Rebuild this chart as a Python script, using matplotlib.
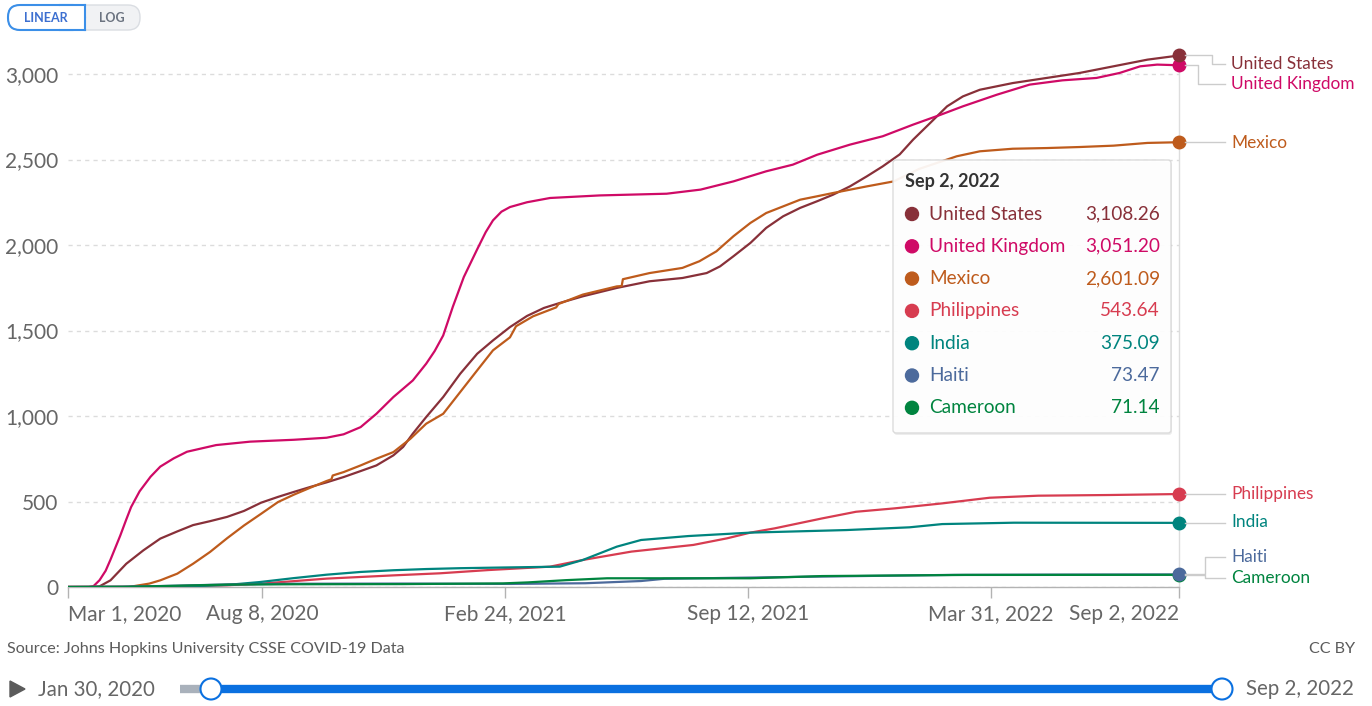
import matplotlib
matplotlib.use("Agg")
import matplotlib.pyplot as plt
import matplotlib.dates as mdates
from matplotlib.patches import FancyBboxPatch, Circle, Polygon
import pandas as pd

plt.rcParams['font.family'] = ['Lato', 'DejaVu Sans']

W, H = 1372, 706

# --- data: cumulative confirmed COVID-19 deaths per million ---
countries = ["United States", "United Kingdom", "Mexico", "Philippines", "India", "Haiti", "Cameroon"]
colors = ["#883039", "#CF0A66", "#BE5B1C", "#D73C50", "#00847E", "#4C6A9C", "#00843F"]

us_dates = ["2020-03-01", "2020-03-21", "2020-03-27", "2020-04-05", "2020-04-18", "2020-05-02", "2020-05-16",
            "2020-05-30", "2020-06-12", "2020-06-26", "2020-07-10", "2020-07-24", "2020-08-07", "2020-08-21",
            "2020-09-03", "2020-09-17", "2020-09-30", "2020-10-14", "2020-10-28", "2020-11-10", "2020-11-24",
            "2020-12-02", "2020-12-10", "2020-12-21", "2021-01-04", "2021-01-18", "2021-02-01", "2021-02-14",
            "2021-02-28", "2021-03-14", "2021-03-28", "2021-04-10", "2021-04-29", "2021-05-27", "2021-06-23",
            "2021-07-20", "2021-08-09", "2021-08-20", "2021-08-31", "2021-09-14", "2021-09-27", "2021-10-11",
            "2021-10-25", "2021-11-08", "2021-11-21", "2021-12-05", "2021-12-19", "2022-01-01", "2022-01-15",
            "2022-01-26", "2022-02-09", "2022-02-23", "2022-03-08", "2022-03-22", "2022-04-18", "2022-05-16",
            "2022-06-12", "2022-07-10", "2022-08-07", "2022-09-02"]
us_vals = [0, 0, 4, 39, 136, 214, 283,
           325, 362, 385, 410, 445, 493, 527,
           556, 586, 612, 643, 678, 711, 770,
           819, 897, 994, 1111, 1247, 1364, 1442,
           1520, 1585, 1632, 1661, 1700, 1749, 1788,
           1807, 1836, 1875, 1934, 2012, 2100, 2168,
           2217, 2256, 2294, 2343, 2402, 2460, 2530,
           2616, 2713, 2811, 2869, 2908, 2947, 2977,
           3006, 3045, 3084, 3108.26]

uk_dates = ["2020-03-01", "2020-03-18", "2020-03-22", "2020-03-27", "2020-04-01", "2020-04-05", "2020-04-09",
            "2020-04-13", "2020-04-18", "2020-04-22", "2020-04-29", "2020-05-08", "2020-05-16", "2020-05-27",
            "2020-06-07", "2020-07-01", "2020-07-29", "2020-09-03", "2020-09-30", "2020-10-14", "2020-10-28",
            "2020-11-10", "2020-11-24", "2020-12-10", "2020-12-21", "2020-12-28", "2021-01-04", "2021-01-12",
            "2021-01-21", "2021-02-01", "2021-02-08", "2021-02-14", "2021-02-21", "2021-02-28", "2021-03-14",
            "2021-04-02", "2021-05-13", "2021-07-07", "2021-08-04", "2021-08-31", "2021-09-27", "2021-10-19",
            "2021-11-08", "2021-12-05", "2022-01-01", "2022-01-26", "2022-02-17", "2022-03-08", "2022-04-05",
            "2022-05-02", "2022-05-29", "2022-06-26", "2022-07-15", "2022-08-01", "2022-08-15", "2022-09-02"]
uk_vals = [0, 0, 5, 40, 95, 160, 230,
           300, 395, 468, 560, 645, 704, 752,
           791, 830, 850, 861, 873, 893, 935,
           1013, 1111, 1208, 1306, 1380, 1471, 1640,
           1813, 1975, 2075, 2144, 2195, 2222, 2250,
           2275, 2290, 2300, 2324, 2372, 2431, 2470,
           2528, 2587, 2636, 2704, 2760, 2811, 2879,
           2938, 2963, 2977, 3006, 3045, 3055, 3051.20]

mx_dates = ["2020-03-01", "2020-04-20", "2020-05-07", "2020-05-16", "2020-05-30", "2020-06-12", "2020-06-26",
            "2020-07-10", "2020-07-24", "2020-08-07", "2020-08-21", "2020-09-03", "2020-09-17", "2020-09-30",
            "2020-10-04", "2020-10-05", "2020-10-14", "2020-10-28", "2020-11-10", "2020-11-24", "2020-12-08",
            "2020-12-21", "2021-01-04", "2021-01-18", "2021-02-01", "2021-02-14", "2021-02-28", "2021-03-05",
            "2021-03-19", "2021-04-07", "2021-04-09", "2021-04-29", "2021-05-27", "2021-05-31", "2021-06-01",
            "2021-06-23", "2021-07-20", "2021-08-03", "2021-08-17", "2021-08-31", "2021-09-14", "2021-09-27",
            "2021-10-11", "2021-10-25", "2021-11-08", "2021-11-21", "2021-12-19", "2022-01-10", "2022-01-31",
            "2022-03-03", "2022-03-22", "2022-04-18", "2022-05-16", "2022-06-12", "2022-07-10", "2022-08-07",
            "2022-09-02"]
mx_vals = [0, 0, 20, 39, 78, 136, 205,
           285, 360, 428, 497, 540, 582, 620,
           630, 652, 672, 711, 750, 789, 867,
           955, 1013, 1140, 1267, 1384, 1460, 1525,
           1583, 1635, 1655, 1710, 1758, 1760, 1800,
           1836, 1866, 1905, 1963, 2051, 2129, 2187,
           2226, 2265, 2285, 2304, 2343, 2372, 2445,
           2519, 2548, 2563, 2567, 2573, 2581, 2597,
           2601.09]

ph_dates = ["2020-03-01", "2020-05-01", "2020-07-10", "2020-08-06", "2020-09-30", "2020-11-24", "2021-01-01",
            "2021-02-10", "2021-04-02", "2021-04-29", "2021-06-08", "2021-07-29", "2021-08-26", "2021-09-14",
            "2021-10-04", "2021-11-12", "2021-12-10", "2022-01-11", "2022-02-19", "2022-03-30", "2022-05-09",
            "2022-07-07", "2022-09-02"]
ph_vals = [0, 2, 10, 19, 49, 68, 80,
           99, 119, 158, 207, 246, 285, 318,
           343, 401, 440, 460, 489, 522, 534,
           538, 543.64]

in_dates = ["2020-03-01", "2020-05-01", "2020-06-12", "2020-07-10", "2020-08-06", "2020-09-03", "2020-09-30",
            "2020-10-28", "2020-11-24", "2020-12-21", "2021-01-18", "2021-02-22", "2021-04-10", "2021-04-29",
            "2021-05-27", "2021-06-16", "2021-07-25", "2021-09-14", "2021-12-02", "2022-01-23", "2022-02-19",
            "2022-04-19", "2022-09-02"]
in_vals = [0, 1, 5, 12, 29, 52, 72,
           88, 98, 105, 110, 114, 119, 158,
           236, 275, 298, 318, 333, 349, 368,
           376, 375.09]

ht_dates = ["2020-03-01", "2020-04-15", "2020-06-01", "2020-07-10", "2020-09-01", "2020-12-01", "2021-03-01",
            "2021-05-01", "2021-06-16", "2021-07-05", "2021-08-15", "2021-11-01", "2022-01-15", "2022-03-01",
            "2022-06-01", "2022-09-02"]
ht_vals = [0, 1, 8, 15, 19, 20, 18,
           22, 35, 48, 52, 60, 67, 71,
           72.5, 73.47]

cm_dates = ["2020-03-01", "2020-04-15", "2020-05-15", "2020-07-10", "2020-09-03", "2020-12-01", "2021-02-22",
            "2021-03-15", "2021-04-15", "2021-05-19", "2021-09-14", "2021-11-12", "2022-03-10", "2022-09-02"]
cm_vals = [0, 1, 5, 14, 16, 17, 21,
           27, 40, 51, 51, 64, 70.5, 71.14]

series_dates = [us_dates, uk_dates, mx_dates, ph_dates, in_dates, ht_dates, cm_dates]
series_vals = [us_vals, uk_vals, mx_vals, ph_vals, in_vals, ht_vals, cm_vals]

tick_dates = ["2020-03-01", "2020-08-08", "2021-02-24", "2021-09-12", "2022-03-31", "2022-09-02"]
y_ticks = [0, 500, 1000, 1500, 2000, 2500, 3000]
slider_start = "2020-01-30"


def fmt_date(d):
    d = pd.Timestamp(d)
    return f"{d:%b} {d.day}, {d.year}"


fig = plt.figure(figsize=(W / 100, H / 100), dpi=100)
fig.patch.set_facecolor("white")

# main plot area (pixel box 68..1179 x, 55.5..587 y)
ymax = max(max(v) for v in series_vals)
ax = fig.add_axes([68 / W, 1 - 587 / H, (1179 - 68) / W, (587 - 55.5) / H])
ax.set_xlim(pd.Timestamp(tick_dates[0]), pd.Timestamp(tick_dates[-1]))
ax.set_ylim(0, ymax)
for s in ["top", "right", "left"]:
    ax.spines[s].set_visible(False)
ax.spines["bottom"].set_color("#b3b3b3")
ax.spines["bottom"].set_linewidth(1)
ax.set_yticks(y_ticks)
ax.set_yticklabels([f"{t:,}" for t in y_ticks])
ax.grid(axis="y", color="#dcdcdc", linestyle=(0, (3, 3)), linewidth=1)
ax.set_axisbelow(True)
ax.tick_params(axis="y", length=0, pad=7, labelsize=15, labelcolor="#666666")
ax.tick_params(axis="x", length=8, width=1, color="#b3b3b3", pad=4, labelsize=15, labelcolor="#666666")
ax.set_xticks([pd.Timestamp(d) for d in tick_dates])
ax.set_xticklabels([fmt_date(d) for d in tick_dates])
xl = ax.get_xticklabels()
xl[0].set_ha("left")
xl[-1].set_ha("right")
ax.patch.set_alpha(0)

# hover line at the last date
last = pd.Timestamp(tick_dates[-1])
ax.plot([last, last], [0, ymax], color="#dddddd", lw=1, zorder=1, clip_on=False)

for dts, vals, c in zip(series_dates, series_vals, colors):
    ax.plot(pd.to_datetime(dts), vals, color=c, lw=1.6, zorder=3, solid_joinstyle="round")

for dts, vals, c in reversed(list(zip(series_dates, series_vals, colors))):
    ax.plot(pd.Timestamp(dts[-1]), vals[-1], "o", ms=9, color=c, zorder=4, clip_on=False)

# overlay in pixel coordinates for labels, tooltip and controls
ov = fig.add_axes([0, 0, 1, 1], zorder=5)
ov.set_xlim(0, W)
ov.set_ylim(H, 0)
ov.axis("off")
ov.patch.set_alpha(0)


def dot_px(dts, vals):
    x, y = ax.transData.transform((mdates.date2num(pd.Timestamp(dts[-1])), vals[-1]))
    return x, H - y


# end labels with connectors
label_y = [64, 84, 143, 494, 522, 557, 578]
elbow_x = [1212, 1198, None, None, None, 1205, 1205]
conn = "#cccccc"
for i, (name, c) in enumerate(zip(countries, colors)):
    dx, dy = dot_px(series_dates[i], series_vals[i])
    ly = label_y[i]
    ex = elbow_x[i]
    if ex is None:
        ov.plot([dx + 6, 1225], [dy, dy], color=conn, lw=1, zorder=1)
    else:
        ov.plot([dx + 6, ex, ex, 1225], [dy, dy, ly, ly], color=conn, lw=1, zorder=1)
    ov.text(1231, ly, name, color=c, fontsize=12.4, va="center", ha="left")

# tooltip
tx, ty, tw, th = 893, 160, 278, 273
ov.add_patch(FancyBboxPatch((tx + 1, ty + 2), tw, th, boxstyle="round,pad=0,rounding_size=3",
                            fc="black", ec="none", alpha=0.07, zorder=2))
ov.add_patch(FancyBboxPatch((tx, ty), tw, th, boxstyle="round,pad=0,rounding_size=3",
                            fc="white", ec="#d9d9d9", lw=1, alpha=0.93, zorder=3))
ov.text(905, 182, fmt_date(tick_dates[-1]), fontsize=13, fontweight="bold", color="#333333",
        va="center", ha="left", zorder=4)
for i, (name, c) in enumerate(zip(countries, colors)):
    ry = 214 + i * 32.3
    ov.add_patch(Circle((912, ry), 6.5, color=c, zorder=4))
    ov.text(929, ry, name, fontsize=13.7, color=c, va="center", ha="left", zorder=4)
    ov.text(1160, ry, f"{series_vals[i][-1]:,.2f}", fontsize=13.7, color=c, va="center", ha="right", zorder=4)

# LINEAR / LOG toggle
ov.add_patch(FancyBboxPatch((8, 5), 132, 25, boxstyle="round,pad=0,rounding_size=12",
                            fc="#f1f2f4", ec="#dadde2", lw=1, zorder=2))
ov.add_patch(FancyBboxPatch((8, 5), 77, 25, boxstyle="round,pad=0,rounding_size=12",
                            fc="white", ec="#3b8fe8", lw=1.5, zorder=3))
ov.add_patch(FancyBboxPatch((60, 5.5), 25, 24, boxstyle="square,pad=0",
                            fc="white", ec="none", zorder=3))
ov.plot([85, 85], [5, 30], color="#3b8fe8", lw=1.5, zorder=4)
ov.plot([60, 85], [5, 5], color="#3b8fe8", lw=1.5, zorder=4)
ov.plot([60, 85], [30, 30], color="#3b8fe8", lw=1.5, zorder=4)
ov.text(46, 17.5, "LINEAR", fontsize=9, fontweight="bold", color="#3c6fd0", ha="center", va="center", zorder=5)
ov.text(112, 17.5, "LOG", fontsize=9, fontweight="bold", color="#6b7380", ha="center", va="center", zorder=5)

# footer
ov.text(7, 649, "Source: Johns Hopkins University CSSE COVID-19 Data", fontsize=11.6, color="#5b5b5b",
        ha="left", va="center")
ov.text(1355, 649, "CC BY", fontsize=11.6, color="#5b5b5b", ha="right", va="center")

# timeline slider
ov.add_patch(Polygon([(10, 681), (10, 697), (25, 689)], closed=True, color="#5b5b5b"))
ov.text(38, 689, fmt_date(slider_start), fontsize=14.8, color="#666666", ha="left", va="center")
ov.plot([180, 211], [689, 689], color="#a9b1bb", lw=6, solid_capstyle="butt", zorder=2)
ov.plot([211, 1222], [689, 689], color="#0a70e0", lw=6, solid_capstyle="butt", zorder=2)
for cx in (211, 1222):
    ov.add_patch(Circle((cx, 689), 10.5, fc="white", ec="#0a70e0", lw=1.5, zorder=3))
ov.text(1246, 689, fmt_date(tick_dates[-1]), fontsize=14.8, color="#666666", ha="left", va="center")

fig.savefig("out.png", dpi=100)
